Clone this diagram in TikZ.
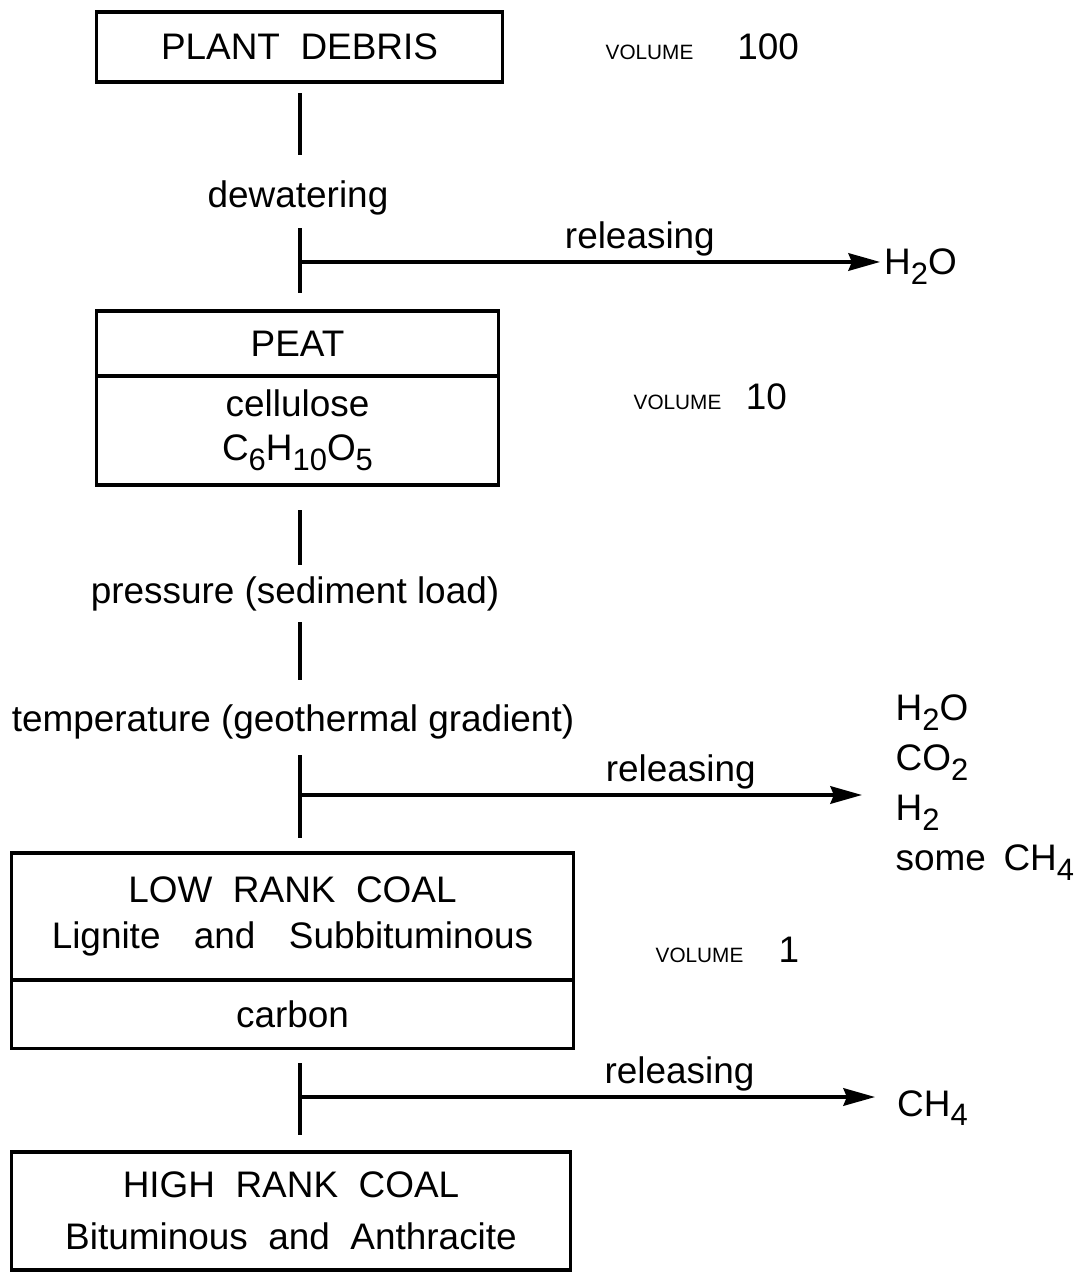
\documentclass[tikz,border=0pt]{standalone}
\usepackage{fontspec}
\setmainfont{Liberation Sans}
\usetikzlibrary{arrows.meta}
\newcommand{\volfont}{\fontsize{5.9}{7}\selectfont}
\newcommand{\lowidx}[1]{\raisebox{-0.5ex}{\fontsize{8.8}{9}\selectfont #1}}

\begin{document}
\begin{tikzpicture}[x=0.01cm, y=-0.01cm,
        font=\fontsize{10.5}{13.3}\selectfont,
        box/.style={draw, line width=0.9pt, inner sep=0pt, outer sep=0pt, align=center},
        lbl/.style={inner sep=0pt, text height=7.5pt, text depth=2pt},
        stem/.style={line width=1.1pt},
        branch/.style={line width=0.9pt, -{Stealth[length=9pt, width=5pt, inset=1pt]}}]
        \useasboundingbox (0,0) rectangle (1075,1274);
        % ── boxes ──────────────────────────
        \node[box, minimum width=4.05cm, minimum height=0.7cm] (debris) at (299.5,47) {PLANT~~DEBRIS};
        \node[box, minimum width=4.01cm, minimum height=0.65cm] (peat) at (297.5,343.5) {PEAT};
        \node[box, minimum width=4.01cm, minimum height=1.09cm, anchor=north] (cellu) at (peat.south) {cellulose\\[-0.8pt]C\lowidx{6}H\lowidx{10}O\lowidx{5}};
        \node[box, minimum width=5.61cm, minimum height=1.27cm] (lowcoal) at (292.5,916.5) {LOW~~RANK~~COAL\\Lignite\hspace{9.5pt}and\hspace{9.5pt}Subbituminous};
        \node[box, minimum width=5.61cm, minimum height=0.68cm, anchor=north] (carbon) at (lowcoal.south) {carbon};
        \node[box, minimum width=5.58cm, minimum height=1.18cm] (highcoal) at (291,1211) {HIGH~~RANK~~COAL\\[1.5pt]Bituminous~~and~~Anthracite};
        % ── volumes ──────────────────────────
        \node[anchor=west, inner sep=0pt] (vol100) at (605,47) {{\volfont VOLUME}\hspace{12.5pt}100};
        \node[anchor=west, inner sep=0pt] (vol10) at (633,397) {{\volfont VOLUME}\hspace{7pt}10};
        \node[anchor=west, inner sep=0pt] (vol1) at (655,950) {{\volfont VOLUME}\hspace{10pt}1};
        % ── process labels ──────────────────────────
        \node[lbl] (dewater) at (298,198) {dewatering};
        \node[lbl] (pressure) at (295,594) {pressure (sediment load)};
        \node[lbl] (temper) at (293,722) {temperature (geothermal gradient)};
        \coordinate (j1) at (300,262);
        \coordinate (j2) at (300,795);
        \coordinate (j3) at (300,1097);
        % ── trunk ──────────────────────────
        \draw[stem, shorten <=0.11cm, shorten >=0.26cm] (debris.south -| j1) -- (dewater.north -| j1);
        \draw[stem, shorten <=0.13cm, shorten >=0.18cm] (dewater.south -| j1) -- (peat.north -| j1);
        \draw[stem, shorten <=0.25cm, shorten >=0.12cm] (cellu.south -| j1) -- (pressure.north -| j1);
        \draw[stem, shorten <=0.11cm, shorten >=0.25cm] (pressure.south -| j1) -- (temper.north -| j1);
        \draw[stem, shorten <=0.16cm, shorten >=0.15cm] (temper.south -| j1) -- (lowcoal.north -| j1);
        \draw[stem, shorten <=0.15cm, shorten >=0.17cm] (carbon.south -| j1) -- (highcoal.north -| j1);
        % ── released products ──────────────────────────
        \node[anchor=base west, inner sep=1pt] (h2o) at (880,275) {H\lowidx{2}O};
        \node[anchor=north west, align=left, inner sep=0pt, font=\fontsize{10.5}{14.2}\selectfont] (gases) at (895,694) {H\lowidx{2}O\\CO\lowidx{2}\\H\lowidx{2}\\some\hspace{5pt}CH\lowidx{4}};
        \node[anchor=base west, inner sep=1pt] (ch4) at (893,1116) {CH\lowidx{4}};
        \draw[branch] (j1) -- (j1 -| h2o.west) node[lbl, above=0.05cm, pos=0.586] (rel1) {releasing};
        \draw[branch, shorten >=0.33cm] (j2) -- (j2 -| gases.west) node[lbl, above=0.05cm, pos=0.64] (rel2) {releasing};
        \draw[branch, shorten >=0.18cm] (j3) -- (j3 -| ch4.west) node[lbl, above=0.05cm, pos=0.64] (rel3) {releasing};
    \end{tikzpicture}
\end{document}
